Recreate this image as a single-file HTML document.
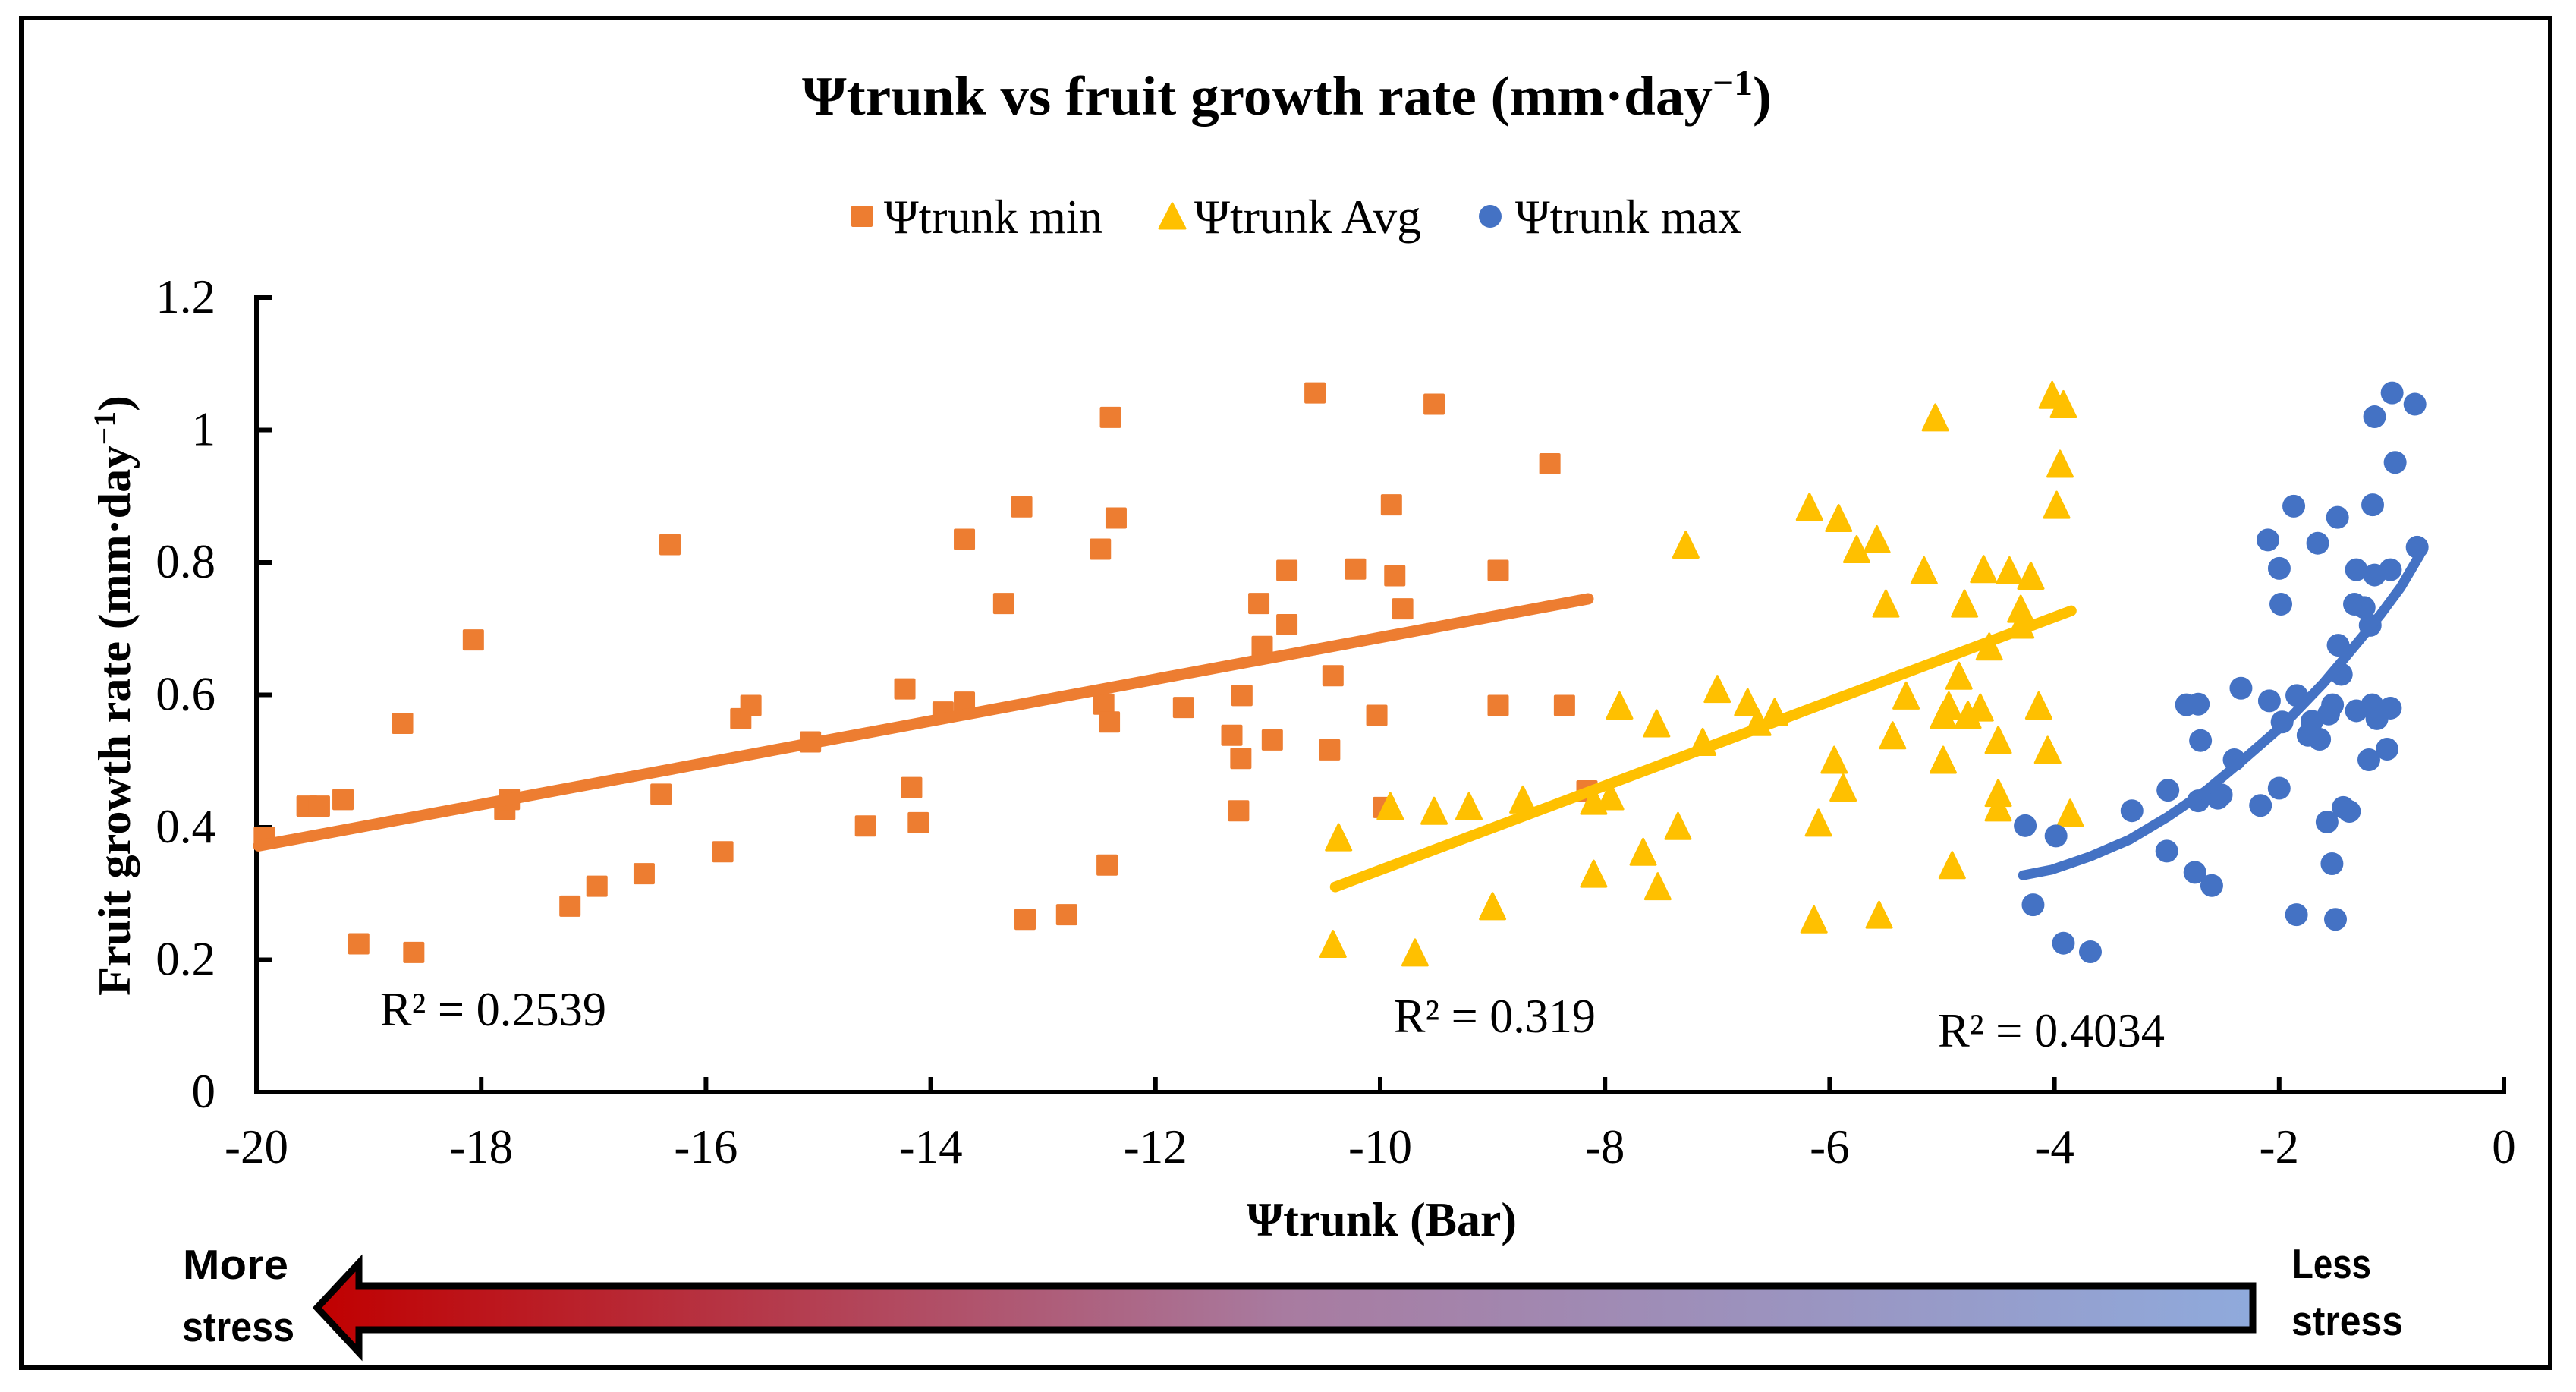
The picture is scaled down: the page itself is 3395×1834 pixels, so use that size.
<!DOCTYPE html>
<html lang="en">
<head>
<meta charset="utf-8">
<title>Ψtrunk vs fruit growth rate</title>
<style>
html,body{margin:0;padding:0;background:#fff;width:3395px;height:1834px;overflow:hidden}
svg{display:block}
text{font-family:"Liberation Serif","DejaVu Serif",serif;fill:#000}
</style>
</head>
<body>
<svg id="chart" xmlns="http://www.w3.org/2000/svg" width="3395" height="1834" viewBox="0 0 3395 1834">
  <defs>
    <linearGradient id="stressGradient" x1="0" x2="1" y1="0" y2="0">
      <stop offset="0" stop-color="#C00000"/>
      <stop offset="0.5" stop-color="#A87BA0"/>
      <stop offset="1" stop-color="#8FAADC"/>
    </linearGradient>
  </defs>
  <rect x="28" y="24" width="3333" height="1778" fill="#fff" stroke="#000" stroke-width="6"/>

  <text x="1057" y="151" font-size="73" font-weight="bold" textLength="1278" lengthAdjust="spacingAndGlyphs">Ψtrunk vs fruit growth rate (mm·day<tspan font-size="48" dy="-26">−1</tspan><tspan dy="26">)</tspan></text>

  <g>
    <rect x="1122" y="271" width="28" height="28" rx="2" fill="#ED7D31"/>
    <text x="1165" y="307" font-size="64" textLength="288" lengthAdjust="spacingAndGlyphs">Ψtrunk min</text>
    <path d="M1545 268L1562 301L1528 301Z" fill="#FFC000" stroke="#FFC000" stroke-width="3" stroke-linejoin="round"/>
    <text x="1574" y="307" font-size="64" textLength="299" lengthAdjust="spacingAndGlyphs">Ψtrunk Avg</text>
    <circle cx="1964" cy="285" r="15" fill="#4472C4"/>
    <text x="1997" y="307" font-size="64" textLength="298" lengthAdjust="spacingAndGlyphs">Ψtrunk max</text>
  </g>

  <g id="axes"></g>
  <g id="marks"></g>

  <text transform="translate(171,1312) rotate(-90)" x="0" y="0" font-size="60" font-weight="bold" textLength="791" lengthAdjust="spacingAndGlyphs">Fruit growth rate (mm·day<tspan font-size="40" dy="-20">−1</tspan><tspan dy="20">)</tspan></text>
  <text x="1643" y="1628" font-size="64" font-weight="bold" textLength="356" lengthAdjust="spacingAndGlyphs">Ψtrunk (Bar)</text>

  <text x="501" y="1351" font-size="64" textLength="298" lengthAdjust="spacingAndGlyphs">R² = 0.2539</text>
  <text x="1837" y="1360" font-size="64" textLength="266" lengthAdjust="spacingAndGlyphs">R² = 0.319</text>
  <text x="2554" y="1379" font-size="64" textLength="299" lengthAdjust="spacingAndGlyphs">R² = 0.4034</text>

  <g>
    <path d="M418 1723L473 1664L473 1694L2969 1694L2969 1752L473 1752L473 1782Z" fill="url(#stressGradient)" stroke="#000" stroke-width="9" stroke-linejoin="miter"/>
    <text x="241" y="1685" font-size="55" font-weight="bold" textLength="139" lengthAdjust="spacingAndGlyphs" style="font-family:'Liberation Sans',sans-serif">More</text>
    <text x="240" y="1767" font-size="55" font-weight="bold" textLength="148" lengthAdjust="spacingAndGlyphs" style="font-family:'Liberation Sans',sans-serif">stress</text>
    <text x="3021" y="1684" font-size="55" font-weight="bold" textLength="104" lengthAdjust="spacingAndGlyphs" style="font-family:'Liberation Sans',sans-serif">Less</text>
    <text x="3020" y="1759" font-size="55" font-weight="bold" textLength="147" lengthAdjust="spacingAndGlyphs" style="font-family:'Liberation Sans',sans-serif">stress</text>
  </g>
</svg>
<script>
const xTicks = [-20,-18,-16,-14,-12,-10,-8,-6,-4,-2,0];
const yTicks = [0,0.2,0.4,0.6,0.8,1,1.2];

const minX = [-19.93,-19.55,-19.44,-19.23,-19.09,-18.6,-18.7,-18.07,-17.79,-17.75,-17.21,-16.97,-16.55,-16.4,-16.32,-15.85,-15.69,-15.6,-15.07,-14.58,-14.17,-14.11,-14.23,-13.89,-13.7,-13.7,-13.35,-13.19,-13.16,-12.79,-12.46,-12.41,-12.43,-12.4,-12.35,-12.49,-11.75,-11.32,-11.24,-11.23,-11.26,-11.08,-11.05,-10.96,-10.83,-10.83,-10.58,-10.42,-10.45,-10.22,-10.03,-9.97,-9.9,-9.87,-9.8,-9.52,-8.95,-8.95,-8.49,-8.36,-8.16];
const minY = [0.385,0.432,0.432,0.442,0.224,0.211,0.557,0.683,0.427,0.442,0.281,0.311,0.33,0.45,0.827,0.363,0.564,0.584,0.529,0.402,0.46,0.407,0.609,0.574,0.589,0.835,0.738,0.884,0.261,0.268,0.586,0.559,0.343,1.019,0.867,0.82,0.581,0.539,0.504,0.599,0.425,0.738,0.673,0.532,0.706,0.788,1.056,0.629,0.517,0.79,0.569,0.43,0.887,0.78,0.73,1.039,0.584,0.788,0.949,0.584,0.455];

const avgX = [-10.37,-10.42,-9.91,-9.69,-9.52,-9.21,-9.0,-8.73,-8.1,-8.1,-7.95,-7.87,-7.66,-7.54,-7.53,-7.35,-7.28,-7.13,-7.0,-6.73,-6.64,-6.49,-6.18,-6.14,-6.1,-5.96,-5.92,-5.88,-5.76,-5.58,-5.56,-5.5,-5.44,-5.32,-5.16,-5.06,-4.99,-4.99,-4.94,-4.91,-4.85,-4.8,-4.77,-4.66,-4.63,-4.58,-4.5,-4.5,-4.5,-4.4,-4.3,-4.3,-4.21,-4.14,-4.06,-4.02,-3.98,-3.95,-3.92,-3.86];
const avgY = [0.385,0.224,0.432,0.211,0.425,0.432,0.281,0.442,0.33,0.44,0.447,0.584,0.363,0.557,0.311,0.402,0.827,0.529,0.609,0.589,0.559,0.574,0.884,0.261,0.407,0.502,0.867,0.46,0.82,0.835,0.268,0.738,0.539,0.599,0.788,1.019,0.569,0.502,0.584,0.343,0.629,0.738,0.57,0.581,0.79,0.673,0.532,0.452,0.43,0.788,0.73,0.706,0.78,0.584,0.517,1.053,0.887,0.949,1.039,0.422];

const maxX = [-0.995,-0.792,-1.151,-0.968,-1.87,-1.481,-1.168,-2.1,-1.657,-1.999,-1.985,-0.772,-1.313,-1.151,-1.01,-1.33,-1.244,-1.19,-1.475,-1.447,-2.34,-2.825,-2.72,-2.087,-1.843,-1.525,-1.313,-1.172,-1.01,-1.13,-1.56,-1.974,-1.708,-1.743,-1.64,-2.7,-1.04,-1.202,-2.4,-2.99,-3.31,-2.0,-2.72,-2.515,-2.545,-2.166,-1.43,-1.375,-1.574,-4.26,-3.986,-3.0,-2.75,-2.6,-1.53,-4.19,-1.846,-1.499,-3.92,-3.68];
const maxY = [1.056,1.039,1.02,0.951,0.885,0.868,0.887,0.834,0.829,0.791,0.737,0.823,0.789,0.781,0.789,0.737,0.732,0.705,0.675,0.631,0.61,0.585,0.586,0.591,0.599,0.585,0.576,0.585,0.58,0.564,0.571,0.559,0.56,0.539,0.533,0.531,0.518,0.502,0.502,0.456,0.425,0.459,0.44,0.449,0.444,0.433,0.43,0.424,0.408,0.4025,0.387,0.364,0.332,0.312,0.345,0.283,0.268,0.261,0.225,0.212];

const minTrendX = [-19.98,-8.15];
const minTrendY = [0.372,0.745];
const avgTrendX = [-10.4,-3.85];
const avgTrendY = [0.31,0.727];
const maxTrendX = [-4.28,-4.024,-3.68,-3.33,-2.99,-2.645,-2.3,-1.955,-1.61,-1.44,-1.268,-1.095,-0.92,-0.75];
const maxTrendY = [0.3275,0.336,0.356,0.3815,0.416,0.456,0.505,0.556,0.617,0.651,0.686,0.722,0.762,0.811];

const NS = 'http://www.w3.org/2000/svg';
const xScale = v => 3300 + v * 148.1;
const yScale = v => 1439 - v * 872.5;
const axesG = document.getElementById('axes');
const marksG = document.getElementById('marks');

function svgEl(tag, attrs, parent) {
  const el = document.createElementNS(NS, tag);
  for (const k in attrs) el.setAttribute(k, attrs[k]);
  parent.appendChild(el);
  return el;
}

const yAxisLine = svgEl('line', {x1: xScale(-20), x2: xScale(-20), y1: yScale(1.2) - 3, y2: yScale(0) + 3, stroke: '#000', 'stroke-width': 6}, axesG);


const xAxisLine = svgEl('line', {x1: xScale(-20), x2: xScale(0) + 3, y1: yScale(0), y2: yScale(0), stroke: '#000', 'stroke-width': 6}, axesG);



yTicks.forEach(v => {
  const tick = svgEl('line', {x1: xScale(-20), x2: xScale(-20) + 20, y1: yScale(v), y2: yScale(v), stroke: '#000', 'stroke-width': 6}, axesG);
  
  
  const label = svgEl('text', {x: 284, y: yScale(v) + 20, 'font-size': 63, 'text-anchor': 'end'}, axesG);
  label.textContent = String(v);
  
  
});

xTicks.forEach(v => {
  const tick = svgEl('line', {x1: xScale(v), x2: xScale(v), y1: yScale(0), y2: yScale(0) - 20, stroke: '#000', 'stroke-width': 6}, axesG);
  
  
  const label = svgEl('text', {x: xScale(v), y: 1532, 'font-size': 63, 'text-anchor': 'middle'}, axesG);
  label.textContent = String(v);
  
  
});

function drawTrend(xs, ys, color, width) {
  const pts = xs.map((x, i) => xScale(x) + ',' + yScale(ys[i])).join(' ');
  return svgEl('polyline', {points: pts, fill: 'none', stroke: color, 'stroke-width': width, 'stroke-linecap': 'round', 'stroke-linejoin': 'round'}, marksG);
}

minX.forEach((x, i) => {
  const m = svgEl('rect', {x: xScale(x) - 14, y: yScale(minY[i]) - 14, width: 28, height: 28, rx: 2, fill: '#ED7D31'}, marksG);
  
  
});
const t1 = drawTrend(minTrendX, minTrendY, '#ED7D31', 15);



avgX.forEach((x, i) => {
  const cx = xScale(x), cy = yScale(avgY[i]);
  const m = svgEl('path', {d: 'M' + cx + ' ' + (cy - 17) + 'L' + (cx + 16.5) + ' ' + (cy + 17) + 'L' + (cx - 16.5) + ' ' + (cy + 17) + 'Z', fill: '#FFC000', stroke: '#FFC000', 'stroke-width': 3, 'stroke-linejoin': 'round'}, marksG);
  
  
});
const t2 = drawTrend(avgTrendX, avgTrendY, '#FFC000', 14);



maxX.forEach((x, i) => {
  const m = svgEl('circle', {cx: xScale(x), cy: yScale(maxY[i]), r: 15, fill: '#4472C4'}, marksG);
  
  
});
const t3 = drawTrend(maxTrendX, maxTrendY, '#4472C4', 13);


</script>
</body>
</html>
